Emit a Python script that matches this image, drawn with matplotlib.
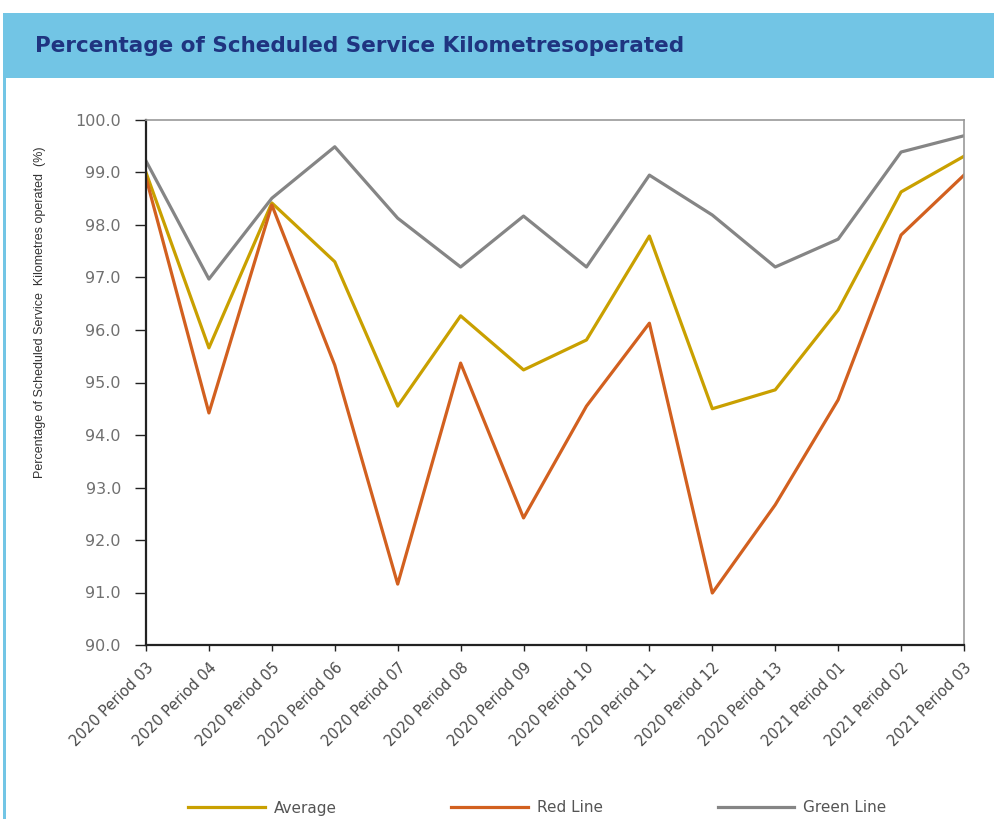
import matplotlib
matplotlib.use("Agg")
import matplotlib.pyplot as plt
from matplotlib.patches import Rectangle

periods = [
    "2020 Period 03", "2020 Period 04", "2020 Period 05", "2020 Period 06",
    "2020 Period 07", "2020 Period 08", "2020 Period 09", "2020 Period 10",
    "2020 Period 11", "2020 Period 12", "2020 Period 13", "2021 Period 01",
    "2021 Period 02", "2021 Period 03",
]
average = [99.0, 95.66, 98.42, 97.3, 94.55, 96.27, 95.24, 95.81, 97.79, 94.5, 94.86, 96.38, 98.63, 99.31]
red_line = [98.9, 94.42, 98.38, 95.33, 91.16, 95.37, 92.42, 94.55, 96.13, 90.99, 92.67, 94.67, 97.81, 98.95]
green_line = [99.22, 96.97, 98.51, 99.49, 98.13, 97.2, 98.17, 97.2, 98.95, 98.19, 97.2, 97.73, 99.39, 99.7]

W, H = 995, 819
fig = plt.figure(figsize=(W / 100, H / 100), dpi=100)
fig.patch.set_facecolor("white")

# title banner and left border
fig.patches.append(Rectangle((3 / W, 1 - 78 / H), 1, 65 / H, transform=fig.transFigure,
                             facecolor="#72C5E5", edgecolor="none", zorder=0))
fig.patches.append(Rectangle((3 / W, 0), 3 / W, 1 - 78 / H, transform=fig.transFigure,
                             facecolor="#72C5E5", edgecolor="none", zorder=0))
fig.text(35 / W, 1 - 46 / H, "Percentage of Scheduled Service Kilometresoperated",
         fontsize=15.5, fontweight="bold", color="#1F3480", va="center", ha="left",
         family="DejaVu Sans")

ax = fig.add_axes([146 / W, 1 - 645 / H, (964 - 146) / W, (645 - 120) / H])
x = list(range(len(periods)))
ax.plot(x, average, color="#C9A000", lw=2.3, label="Average")
ax.plot(x, red_line, color="#D2601F", lw=2.3, label="Red Line")
ax.plot(x, green_line, color="#858585", lw=2.3, label="Green Line")

ax.set_xlim(0, len(periods) - 1)
ax.set_ylim(90, 100)
ax.set_yticks([90 + i for i in range(11)])
ax.set_yticklabels([f"{90 + i:.1f}" for i in range(11)], color="#707070", fontsize=11.5)
ax.set_xticks(x)
ax.set_xticklabels(periods, rotation=45, ha="right", rotation_mode="anchor",
                   color="#4a4a4a", fontsize=10.5)
ax.tick_params(axis="y", direction="out", length=8, width=1, color="#222222", pad=10)
ax.tick_params(axis="x", direction="out", length=4, width=1, color="#222222", pad=7)

for s in ["left", "bottom"]:
    ax.spines[s].set_color("#222222")
    ax.spines[s].set_linewidth(1.6)
for s in ["top", "right"]:
    ax.spines[s].set_color("#999999")
    ax.spines[s].set_linewidth(1.2)

ax.set_ylabel("Percentage of Scheduled Service  Kilometres operated  (%)", fontsize=9,
              color="#333333", family="Liberation Sans")
ax.yaxis.set_label_coords((46 - 146) / 818, (645 - 312) / 525)

fig.legend(loc="center", bbox_to_anchor=(0.54, 1 - 808 / H), ncol=3, frameon=False,
           fontsize=11, handlelength=5.0, handletextpad=0.6, columnspacing=7.5,
           labelcolor="#555555")

fig.savefig("out.png", dpi=100)
